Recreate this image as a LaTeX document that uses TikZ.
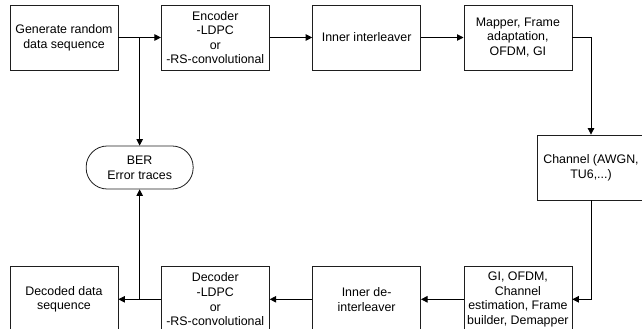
\documentclass[tikz,border=0pt]{standalone}
\usepackage{fontspec}
\setmainfont{Liberation Sans}
\usetikzlibrary{arrows.meta,positioning,calc}
\definecolor{cLine}{RGB}{0,0,0}
\definecolor{cEdge}{RGB}{30,30,30}
\tikzset{
  basebox/.style={rectangle,draw=cEdge,line width=0.8pt,align=center,
                  inner sep=1.5pt,font=\fontsize{12.4}{14.6}\selectfont},
  blockbox/.style={basebox,minimum width=108pt,minimum height=65pt},
  termbox/.style={basebox,rounded corners=21pt,minimum width=107pt,minimum height=43pt},
  arr/.style={-{Triangle[length=6.5pt,width=6.5pt]},line width=0.8pt,color=cLine}
}
\begin{document}
\begin{tikzpicture}[node distance=196pt and 42.5pt]
  \useasboundingbox (0,0) rectangle (642pt,-329pt);

  % Transmitter row
  \node[blockbox] (gen) at (64pt,-37.5pt) {Generate random\\data sequence};
  \node[blockbox, right=of gen] (enc) {Encoder\\-LDPC\\or\\-RS-convolutional};
  \node[blockbox, right=of enc] (inter) {Inner interleaver};
  \node[blockbox, right=of inter] (map) {Mapper, Frame\\adaptation,\\OFDM, GI};

  % Channel
  \node[blockbox] (chan) at (591pt,-167.5pt) {Channel (AWGN,\\TU6,...)};

  % Receiver row
  \node[blockbox, below=of map] (gi) {GI, OFDM,\\Channel\\estimation, Frame\\builder, Demapper};
  \node[blockbox, below=of inter] (deint) {Inner de-\\interleaver};
  \node[blockbox, below=of enc] (dec) {Decoder\\-LDPC\\or\\-RS-convolutional};
  \node[blockbox, below=of gen] (dseq) {Decoded data\\sequence};

  % Error counting
  \coordinate (jt) at ($(gen.east)!0.5!(enc.west)$);
  \coordinate (jb) at ($(dseq.east)!0.5!(dec.west)$);
  \node[termbox] (ber) at (jt |- chan) {BER\\Error traces};

  % Arrows
  \draw[arr] (gen) -- (enc);
  \draw[arr] (enc) -- (inter);
  \draw[arr] (inter) -- (map);
  \draw[arr] (map.east) -| (chan.north);
  \draw[arr] (chan.south) |- (gi.east);
  \draw[arr] (gi) -- (deint);
  \draw[arr] (deint) -- (dec);
  \draw[arr] (dec) -- (dseq);
  \draw[arr] (jt) -- (ber);
  \draw[arr] (jb) -- (ber);

\end{tikzpicture}
\end{document}
